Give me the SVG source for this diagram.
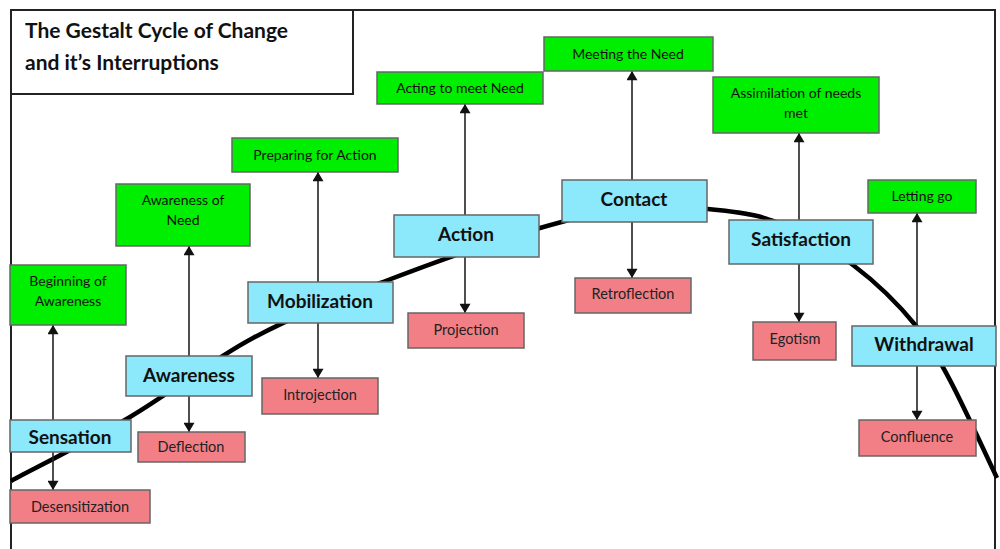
<svg xmlns="http://www.w3.org/2000/svg" width="1000" height="549" viewBox="0 0 1000 549">
<defs>
<marker id="ah" viewBox="0 0 10 12" refX="10" refY="6" markerWidth="12" markerHeight="11" markerUnits="userSpaceOnUse" orient="auto">
<path d="M0,0 L10,6 L0,12 z" fill="#111"/>
</marker>
<style>
.stage rect{fill:#8CE8FB;stroke:#666;stroke-width:1.5}
.need rect{fill:#00EE00;stroke:#666;stroke-width:1.5}
.block rect{fill:#F27F86;stroke:#666;stroke-width:1.5}
.stage text{font-family:Lato,"Liberation Sans",sans-serif;font-weight:bold;font-size:19px;fill:#111;text-anchor:middle}
.need text,.block text{font-family:Lato,"Liberation Sans",sans-serif;font-size:14px;fill:#111;text-anchor:middle}
.block text{font-size:14.5px;fill:#222}
#connectors line{stroke:#222;stroke-width:1.6;marker-end:url(#ah)}
</style>
</defs>
<rect x="0" y="0" width="1000" height="549" fill="#fff"/>
<g id="frame" fill="none" stroke="#222" stroke-width="2">
<path d="M11,549 V10 H995 V549"/>
</g>
<g id="title">
<rect x="11" y="10" width="342" height="84" fill="#fff" stroke="#222" stroke-width="2"/>
<text font-family="Lato,'Liberation Sans',sans-serif" font-weight="bold" font-size="21" fill="#111"><tspan x="25" y="38">The Gestalt Cycle of Change</tspan><tspan x="25" y="70">and it’s Interruptions</tspan></text>
</g>
<g id="curve">
<path d="M11,481 C30.8,470.3 89.7,440.8 130,417 C170.3,393.2 210.8,360.5 253,338 C295.2,315.5 335.2,300.3 383,282 C430.8,263.7 495.5,240.5 540,228 C584.5,215.5 611.7,208.3 650,207 C688.3,205.7 752,212 770,220 C798,228.4 825,244 853,265 C874,280.8 896,301 917,327 C944,360.8 970,421.3 997,478" fill="none" stroke="#000" stroke-width="4.5"/>
</g>
<g id="connectors">
<line x1="53" y1="420" x2="53" y2="325"/>
<line x1="53" y1="452" x2="53" y2="490"/>
<line x1="189" y1="356" x2="189" y2="246"/>
<line x1="189" y1="396" x2="189" y2="432"/>
<line x1="318" y1="282" x2="318" y2="172"/>
<line x1="318" y1="323" x2="318" y2="378"/>
<line x1="465" y1="215" x2="465" y2="104"/>
<line x1="465" y1="257" x2="465" y2="313"/>
<line x1="632" y1="180" x2="632" y2="71"/>
<line x1="632" y1="222" x2="632" y2="278"/>
<line x1="799" y1="220" x2="799" y2="133"/>
<line x1="799" y1="264" x2="799" y2="322"/>
<line x1="917" y1="326" x2="917" y2="213"/>
<line x1="917" y1="366" x2="917" y2="420"/>
</g>
<g id="n-beginning" class="need"><rect x="10" y="265" width="116" height="60"/><text x="68" y="286">Beginning of</text><text x="68" y="306">Awareness</text></g>
<g id="n-sensation" class="stage"><rect x="10" y="420" width="121" height="32"/><text x="70" y="444">Sensation</text></g>
<g id="n-desensitization" class="block"><rect x="10" y="490" width="140" height="33"/><text x="80" y="512">Desensitization</text></g>
<g id="n-awareness-need" class="need"><rect x="116" y="184" width="134" height="62"/><text x="183" y="205">Awareness of</text><text x="183" y="225">Need</text></g>
<g id="n-awareness" class="stage"><rect x="126" y="356" width="126" height="40"/><text x="189" y="382">Awareness</text></g>
<g id="n-deflection" class="block"><rect x="138" y="432" width="107" height="30"/><text x="191" y="452">Deflection</text></g>
<g id="n-preparing" class="need"><rect x="232" y="138" width="166" height="34"/><text x="315" y="160">Preparing for Action</text></g>
<g id="n-mobilization" class="stage"><rect x="248" y="282" width="145" height="41"/><text x="320" y="308">Mobilization</text></g>
<g id="n-introjection" class="block"><rect x="262" y="378" width="116" height="36"/><text x="320" y="400">Introjection</text></g>
<g id="n-acting" class="need"><rect x="377" y="72" width="166" height="32"/><text x="460" y="93">Acting to meet Need</text></g>
<g id="n-action" class="stage"><rect x="394" y="215" width="145" height="42"/><text x="466" y="241">Action</text></g>
<g id="n-projection" class="block"><rect x="408" y="313" width="116" height="35"/><text x="466" y="335">Projection</text></g>
<g id="n-meeting" class="need"><rect x="544" y="37" width="169" height="34"/><text x="628" y="59">Meeting the Need</text></g>
<g id="n-contact" class="stage"><rect x="562" y="180" width="145" height="42"/><text x="634" y="206">Contact</text></g>
<g id="n-retroflection" class="block"><rect x="575" y="278" width="116" height="35"/><text x="633" y="299">Retroflection</text></g>
<g id="n-assimilation" class="need"><rect x="713" y="77" width="166" height="56"/><text x="796" y="98">Assimilation of needs</text><text x="796" y="118">met</text></g>
<g id="n-satisfaction" class="stage"><rect x="729" y="220" width="144" height="44"/><text x="801" y="246">Satisfaction</text></g>
<g id="n-egotism" class="block"><rect x="753" y="322" width="83" height="38"/><text x="795" y="344">Egotism</text></g>
<g id="n-letting" class="need"><rect x="868" y="180" width="108" height="33"/><text x="922" y="201">Letting go</text></g>
<g id="n-withdrawal" class="stage"><rect x="852" y="326" width="144" height="40"/><text x="924" y="351">Withdrawal</text></g>
<g id="n-confluence" class="block"><rect x="859" y="420" width="117" height="36"/><text x="917" y="442">Confluence</text></g>
</svg>
